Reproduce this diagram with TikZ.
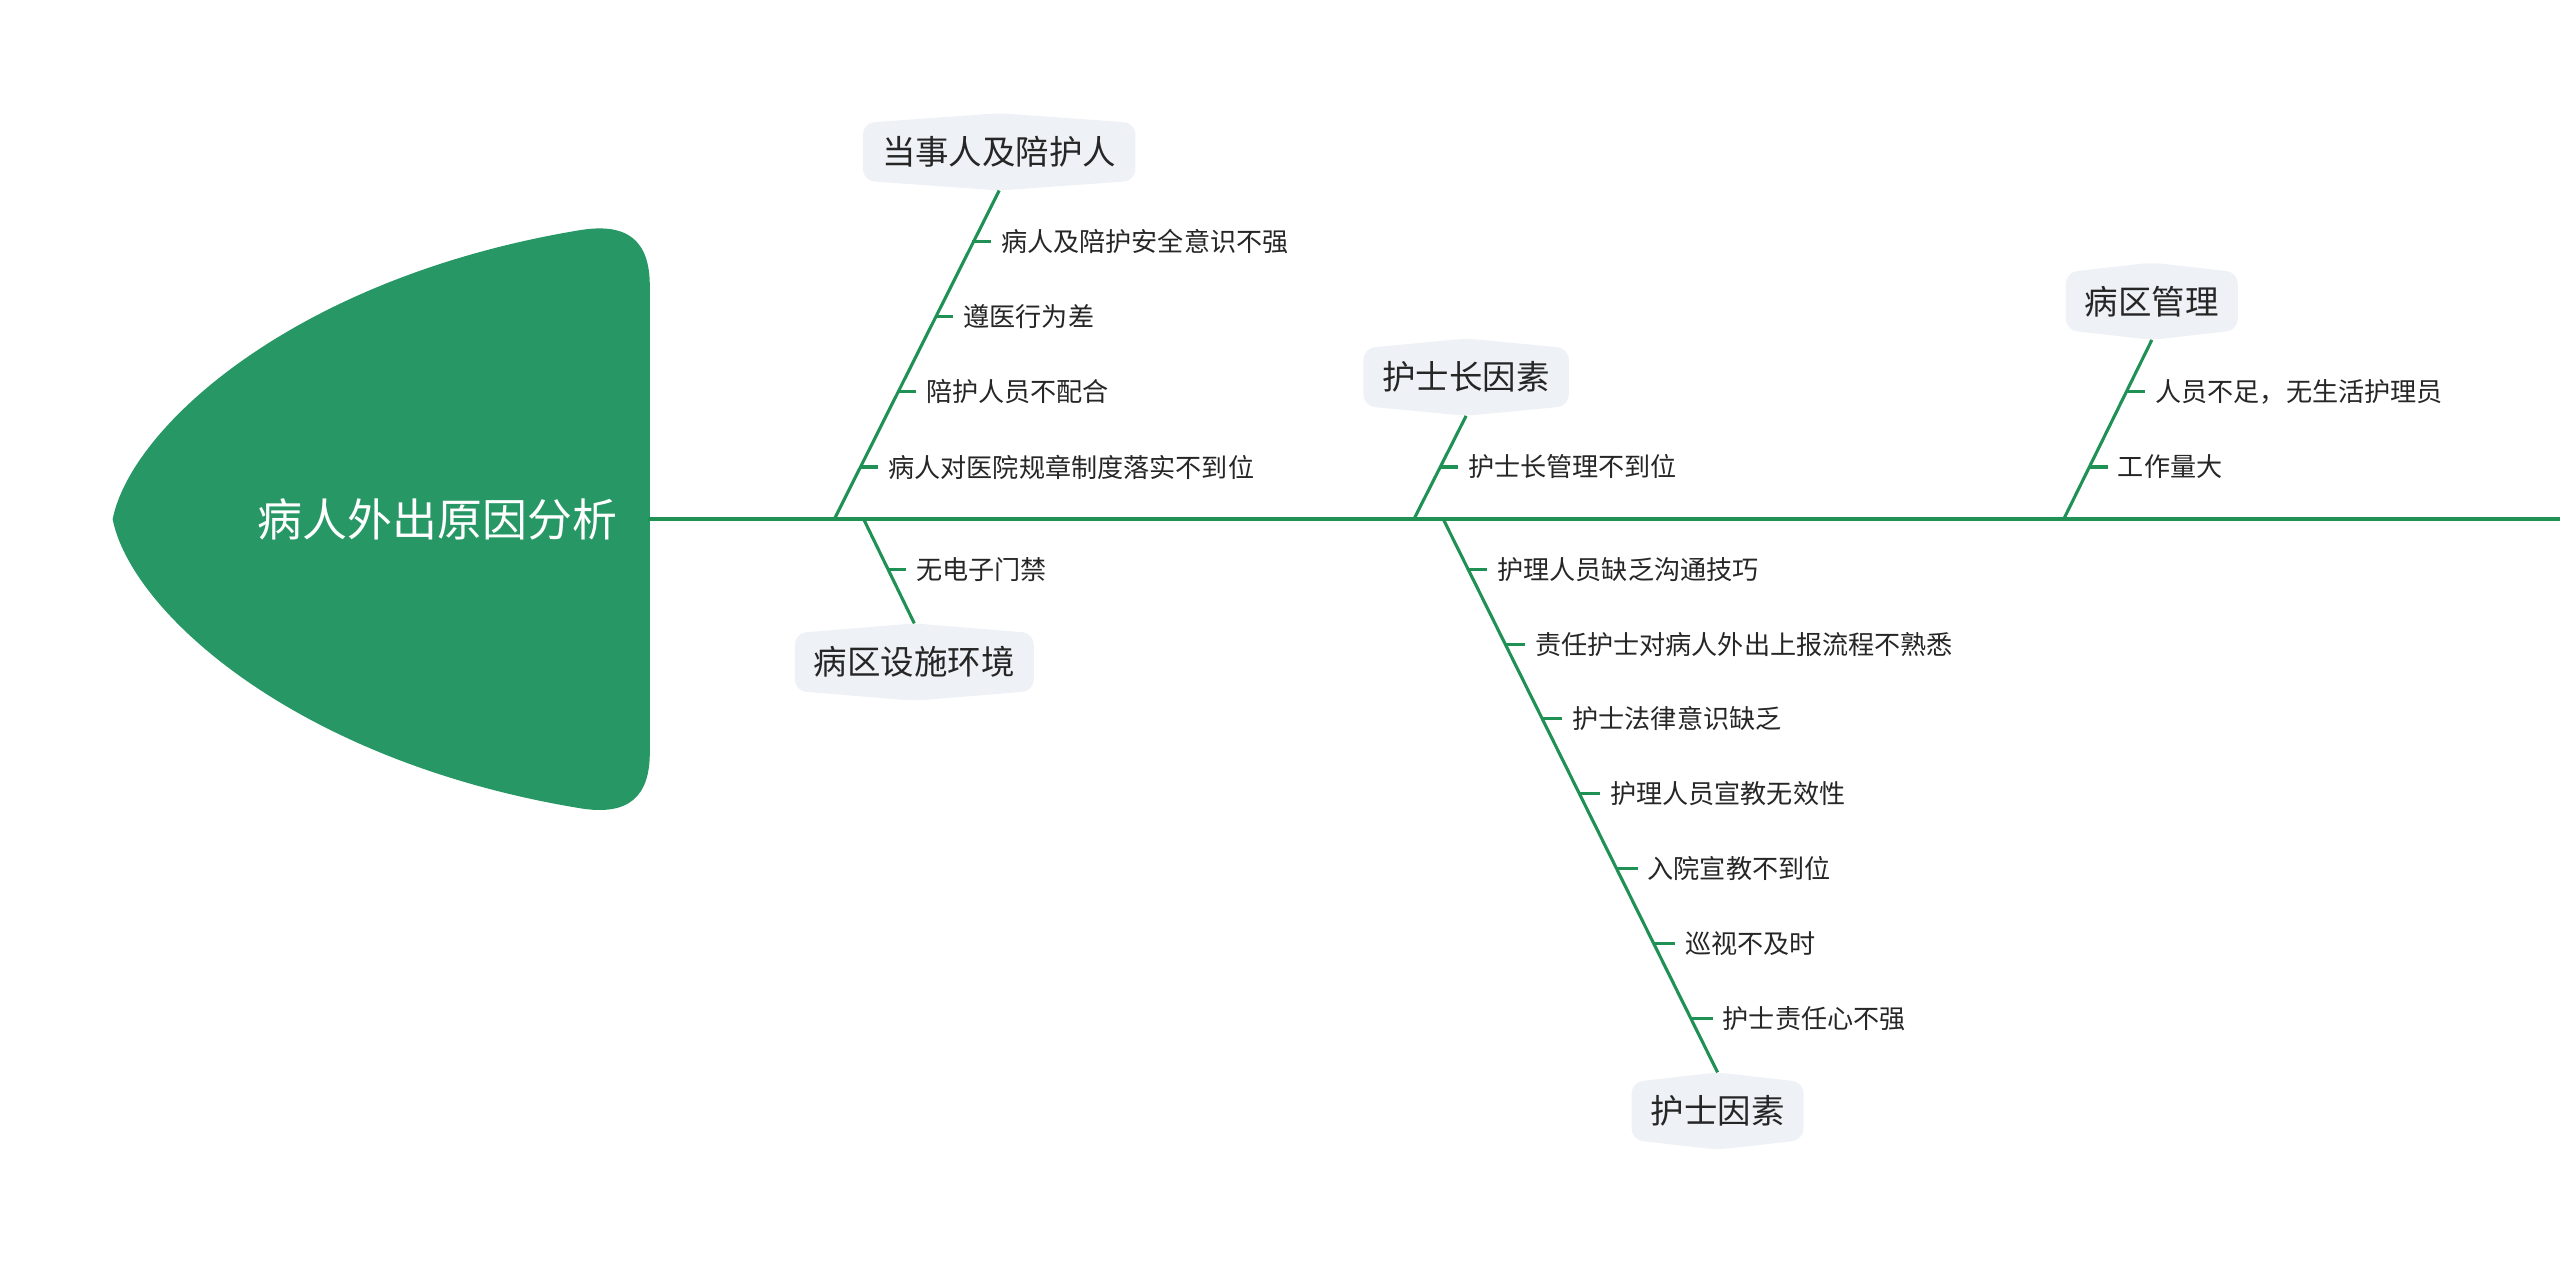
\documentclass[tikz,border=0pt]{standalone}
\usepackage{fontspec}
\newfontfamily\cjk{Noto Sans CJK SC}
\usetikzlibrary{calc,backgrounds}
\definecolor{bone}{HTML}{1F9155}
\definecolor{headfill}{HTML}{279865}
\definecolor{catfill}{HTML}{EEF1F5}
\definecolor{txt}{HTML}{262626}
\newcommand\catshape[1]{\fill[catfill,rounded corners=7pt] (#1.north west) -- ($(#1.north)+(0,-6)$) -- (#1.north east) -- (#1.south east) -- ($(#1.south)+(0,6)$) -- (#1.south west) -- cycle;}
\begin{document}
\begin{tikzpicture}[x=1pt,y=-1pt,
  bonel/.style={draw=bone,line width=1.9pt},
  tickl/.style={draw=bone,line width=1.9pt},
  spinel/.style={draw=bone,line width=2.2pt},
  cat/.style={font=\cjk\fontsize{20.5}{24}\selectfont,text=txt,inner xsep=11.5pt,inner ysep=0pt,minimum height=35pt},
  lab/.style={font=\cjk\fontsize{16}{19}\selectfont,text=txt,inner xsep=6pt,inner ysep=0pt,anchor=west},
  titlest/.style={font=\cjk\fontsize{27.5}{32}\selectfont,text=white}
]
\useasboundingbox (0,0) rectangle (1568,772);

% head
\fill[headfill] (69,318) .. controls (80,262) and (180,170) .. (355,141) .. controls (385,136) and (398,148) .. (398,175) -- (398,461) .. controls (398,488) and (385,500) .. (355,495) .. controls (180,466) and (80,374) .. (69,318) -- cycle;
\node[titlest] (title) at (268,318) {病人外出原因分析};

% spine
\coordinate (headR) at (397,318);
\coordinate (spineEnd) at (1568,318);
\draw[spinel] (headR) -- (spineEnd);

% category nodes
\node[cat] (catA) at (612,93) {当事人及陪护人};
\node[cat] (catB) at (560,405.5) {病区设施环境};
\node[cat] (catC) at (898,231) {护士长因素};
\node[cat] (catD) at (1052,680.5) {护士因素};
\node[cat] (catE) at (1318,184.5) {病区管理};
\begin{scope}[on background layer]
\catshape{catA}\catshape{catB}\catshape{catC}\catshape{catD}\catshape{catE}
\end{scope}

% junctions on spine
\coordinate (jA) at (511,318);
\coordinate (jB) at (529,318);
\coordinate (jC) at (866,318);
\coordinate (jD) at (884,318);
\coordinate (jE) at (1264,318);

% bones
\draw[bonel] ($(catA.south)+(0,6)$) -- (jA);
\draw[bonel] (jB) -- ($(catB.north)+(0,-6)$);
\draw[bonel] ($(catC.south)+(0,6)$) -- (jC);
\draw[bonel] (jD) -- ($(catD.north)+(0,-6)$);
\draw[bonel] ($(catE.south)+(0,6)$) -- (jE);

% branch A labels
\node[lab] (a1) at (607,148) {病人及陪护安全意识不强};
\node[lab] (a2) at (584,194) {遵医行为差};
\node[lab] (a3) at (561,240) {陪护人员不配合};
\node[lab] (a4) at (538,286) {病人对医院规章制度落实不到位};
\coordinate (pa1) at (595.6,148);
\coordinate (pa2) at (572.7,194);
\coordinate (pa3) at (549.8,240);
\coordinate (pa4) at (526.9,286);
\draw[tickl] (pa1) -- (a1.west);
\draw[tickl] (pa2) -- (a2.west);
\draw[tickl] (pa3) -- (a3.west);
\draw[tickl] (pa4) -- (a4.west);

% branch B
\node[lab] (b1) at (555,349) {无电子门禁};
\coordinate (pb1) at (544,349);
\draw[tickl] (pb1) -- (b1.west);

% branch C
\node[lab] (c1) at (893,286) {护士长管理不到位};
\coordinate (pc1) at (882,286);
\draw[tickl] (pc1) -- (c1.west);

% branch D
\node[lab] (d1) at (911,349) {护理人员缺乏沟通技巧};
\node[lab] (d2) at (934,395) {责任护士对病人外出上报流程不熟悉};
\node[lab] (d3) at (957,440) {护士法律意识缺乏};
\node[lab] (d4) at (980,486) {护理人员宣教无效性};
\node[lab] (d5) at (1003,532) {入院宣教不到位};
\node[lab] (d6) at (1026,578) {巡视不及时};
\node[lab] (d7) at (1049,624) {护士责任心不强};
\coordinate (pd1) at (899.4,349);
\coordinate (pd2) at (922.2,395);
\coordinate (pd3) at (944.5,440);
\coordinate (pd4) at (967.3,486);
\coordinate (pd5) at (990.1,532);
\coordinate (pd6) at (1012.9,578);
\coordinate (pd7) at (1035.7,624);
\draw[tickl] (pd1) -- (d1.west);
\draw[tickl] (pd2) -- (d2.west);
\draw[tickl] (pd3) -- (d3.west);
\draw[tickl] (pd4) -- (d4.west);
\draw[tickl] (pd5) -- (d5.west);
\draw[tickl] (pd6) -- (d6.west);
\draw[tickl] (pd7) -- (d7.west);

% branch E
\node[lab] (e1) at (1314,240) {人员不足，无生活护理员};
\node[lab] (e2) at (1291,286) {工作量大};
\coordinate (pe1) at (1302.3,240);
\coordinate (pe2) at (1279.7,286);
\draw[tickl] (pe1) -- (e1.west);
\draw[tickl] (pe2) -- (e2.west);
\end{tikzpicture}
\end{document}
